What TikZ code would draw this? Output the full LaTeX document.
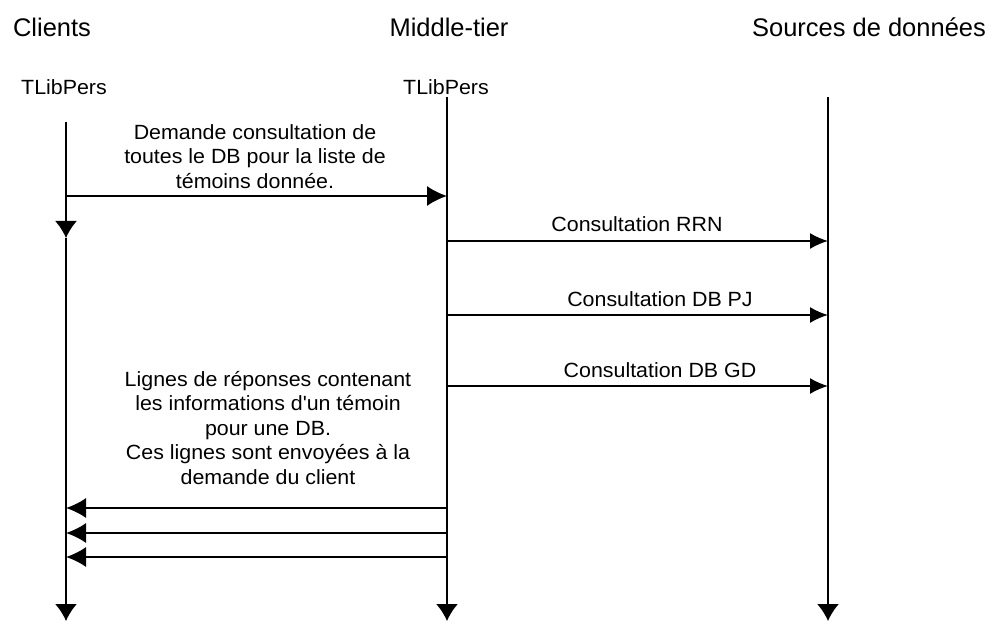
\documentclass[tikz,border=0pt]{standalone}
\usepackage{fontspec}
\setmainfont{Liberation Sans}
\newfontfamily\semiwidesans{Liberation Sans}[FakeStretch=1.04]
\usetikzlibrary{positioning,arrows.meta,calc}
\tikzset{
lifeline/.style={
  line width=1pt,
  -{Latex[length=0.34cm,width=0.44cm]}
  },
callmsg/.style={
  line width=1pt,
  -{Latex[length=0.4cm,width=0.4cm]}
  },
req/.style={
  line width=1pt,
  -{Latex[length=0.36cm,width=0.32cm]}
  },
head/.style={
  font=\fontsize{14.5}{17}\selectfont,
  inner sep=0pt
  },
objname/.style={
  font=\semiwidesans\fontsize{11.7}{14}\selectfont,
  inner sep=0pt
  },
msgtext/.style={
  font=\semiwidesans\fontsize{11.7}{13.9}\selectfont,
  align=center,
  inner sep=0pt
  }
}

\begin{document}
\begin{tikzpicture}[>=latex]
\useasboundingbox (0,0) rectangle (19.98,-12.48);

% lifelines
\coordinate (cl-top) at (1.32,-2.44);
\coordinate (cl-mid) at (1.32,-4.76);
\coordinate (cl-bot) at (1.32,-12.42);
\coordinate (mt-top) at (8.94,-1.94);
\coordinate (mt-bot) at (8.94,-12.42);
\coordinate (sd-top) at (16.56,-1.94);
\coordinate (sd-bot) at (16.56,-12.42);

\node[head,anchor=base] (hcl) at (1.04,-0.74) {Clients};
\node[head,anchor=base] (hmt) at (8.98,-0.74) {Middle-tier};
\node[head,anchor=base] (hsd) at (17.38,-0.74) {Sources de donn\'ees};

\node[objname,anchor=base] (ocl) at (1.28,-1.9) {TLibPers};
\node[objname,anchor=base] (omt) at (8.92,-1.9) {TLibPers};

\draw[lifeline] (cl-top) to (cl-mid);
\draw[lifeline] (cl-mid) to (cl-bot);
\draw[lifeline] (mt-top) to (mt-bot);
\draw[lifeline] (sd-top) to (sd-bot);

% demande du client
\coordinate (dm-a) at (1.32,-3.92);
\coordinate (dm-b) at (8.94,-3.92);
\draw[callmsg] (dm-a) to (dm-b);
\node[msgtext,anchor=north] (dmtxt) at (5.1,-2.48)
{Demande consultation de\\toutes le DB pour la liste de\\t\'emoins donn\'ee.};

% consultations
\foreach \y/\n in {4.82/1,6.30/2,7.72/3}{
  \coordinate (rq\n-a) at (8.94,-\y);
  \coordinate (rq\n-b) at (16.56,-\y);
  \draw[req] (rq\n-a) to (rq\n-b);
}
\node[objname,anchor=base,above=0.18cm of rq1-a,anchor=base,xshift=3.8cm] (rq1txt) {Consultation RRN};
\node[objname,anchor=base,above=0.18cm of rq2-a,anchor=base,xshift=4.26cm] (rq2txt) {Consultation DB PJ};
\node[objname,anchor=base,above=0.18cm of rq3-a,anchor=base,xshift=4.26cm] (rq3txt) {Consultation DB GD};

% reponses
\foreach \y/\n in {10.16/1,10.66/2,11.14/3}{
  \coordinate (rp\n-a) at (8.94,-\y);
  \coordinate (rp\n-b) at (1.32,-\y);
  \draw[callmsg] (rp\n-a) to (rp\n-b);
}
\node[msgtext,anchor=north] (rptxt) at (5.36,-7.42)
{Lignes de r\'eponses contenant\\les informations d\textquotesingle un t\'emoin\\pour une DB.\\Ces lignes sont envoy\'ees \`a la\\demande du client};

\end{tikzpicture}
\end{document}
